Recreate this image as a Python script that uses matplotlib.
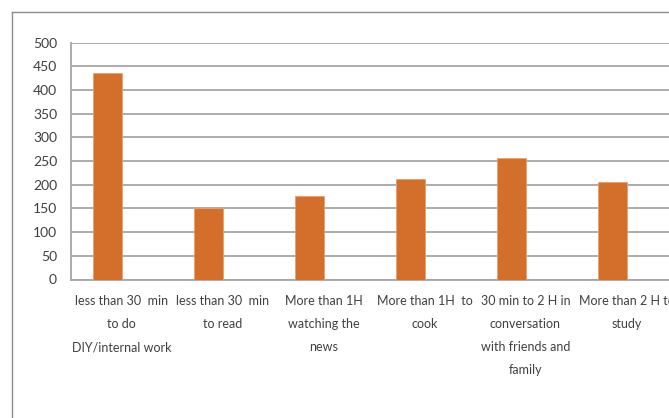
import numpy as np
import matplotlib.pyplot as plt
from matplotlib.lines import Line2D

categories = [
    "less than 30  min\nto do\nDIY/internal work",
    "less than 30  min\nto read",
    "More than 1H\nwatching the\nnews",
    "More than 1H  to\ncook",
    "30 min to 2 H in\nconversation\nwith friends and\nfamily",
    "More than 2 H to\nstudy",
]
counts = [436, 151, 176, 213, 256, 205]
yticks = [0, 50, 100, 150, 200, 250, 300, 350, 400, 450, 500]

bar_color = "#D36E2B"
grid_color = "#A6A6A6"
text_color = "#404040"

plt.rcParams['font.family'] = ['Lato', 'DejaVu Sans']

fig = plt.figure(figsize=(6.69, 4.18), dpi=100)
ax = fig.add_axes([71 / 669, 138.5 / 418, 1 - 71 / 669, 236.8 / 418])

x = np.arange(len(categories))
width = 0.28
# first series of a two-series cluster; the second series is empty
ax.bar(x - width / 2, counts, width, color=bar_color, edgecolor="#E8A070",
       linewidth=0.6, zorder=3)

ax.set_ylim(0, 500)
ax.set_yticks(yticks)
ax.set_xlim(-0.5, -0.5 + (669 - 71) / 101)
ax.set_xticks(x)
ax.set_xticklabels(categories, linespacing=2.1, va="top")

ax.yaxis.grid(True, color=grid_color, linewidth=1.3, zorder=0)
ax.set_axisbelow(True)
for side in ["top", "right"]:
    ax.spines[side].set_visible(False)
ax.spines["left"].set_color(grid_color)
ax.spines["left"].set_linewidth(1.3)
ax.spines["bottom"].set_color(grid_color)
ax.spines["bottom"].set_linewidth(1.3)

ax.tick_params(axis="y", length=0, pad=10, labelsize=10, labelcolor=text_color)
ax.tick_params(axis="x", length=0, pad=11.5, labelsize=9, labelcolor=text_color)

# outer chart frame, partly out of view
fig.add_artist(Line2D([11.5 / 669, 11.5 / 669], [0, 1 - 12 / 418],
                      color="#8C8C8C", linewidth=1.0))
fig.add_artist(Line2D([11.5 / 669, 1], [1 - 12 / 418, 1 - 12 / 418],
                      color="#8C8C8C", linewidth=1.0))

fig.savefig("out.png", dpi=100)
